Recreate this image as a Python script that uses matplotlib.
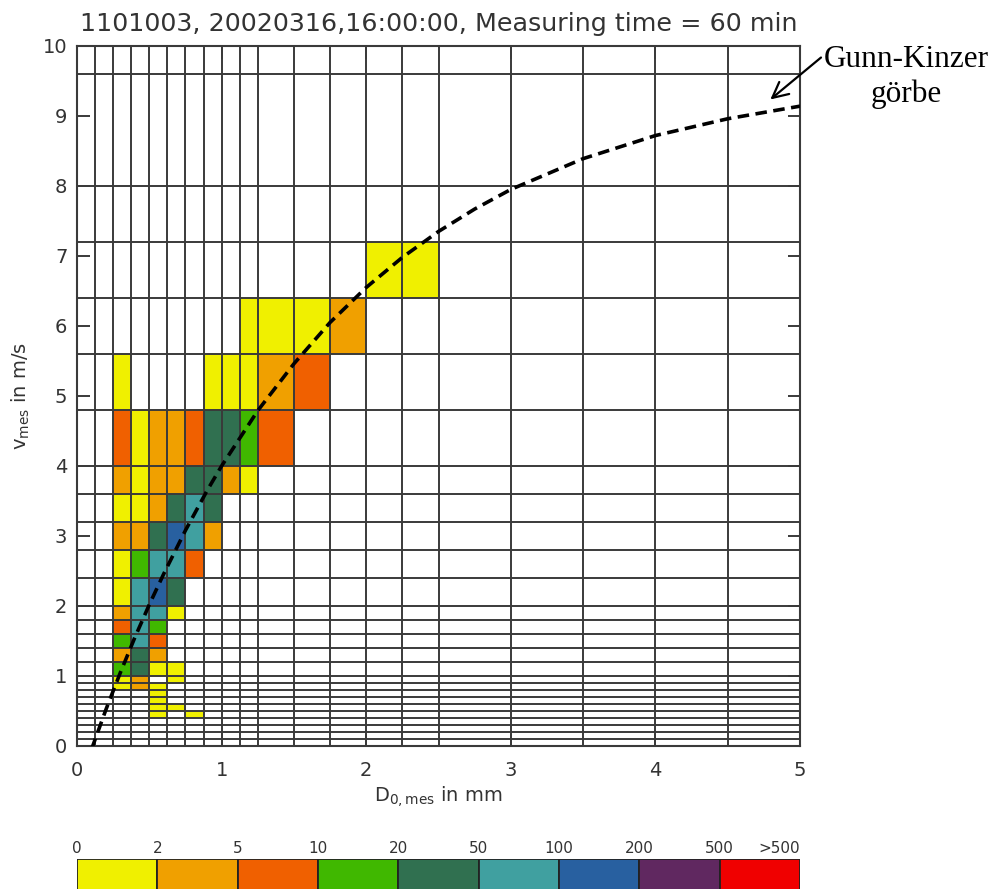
import numpy as np
import matplotlib
matplotlib.use("Agg")
import matplotlib.pyplot as plt
from matplotlib.colors import ListedColormap, BoundaryNorm
from matplotlib import transforms

# Parsivel class edges
d_edges = [0, 0.125, 0.25, 0.375, 0.5, 0.625, 0.75, 0.875, 1.0, 1.125, 1.25,
           1.5, 1.75, 2.0, 2.25, 2.5, 3.0, 3.5, 4.0, 4.5, 5.0]
v_edges = [0, 0.1, 0.2, 0.3, 0.4, 0.5, 0.6, 0.7, 0.8, 0.9, 1.0,
           1.2, 1.4, 1.6, 1.8, 2.0, 2.4, 2.8, 3.2, 3.6, 4.0,
           4.8, 5.6, 6.4, 7.2, 8.0, 9.6]

# drop counts, top row = 6.4-7.2 m/s, columns = first 15 diameter classes
counts_top_down = [
    [0, 0, 0, 0, 0, 0, 0, 0, 0, 0, 0, 0, 0, 1, 1],
    [0, 0, 0, 0, 0, 0, 0, 0, 0, 1, 1, 1, 3, 0, 0],
    [0, 0, 1, 0, 0, 0, 0, 1, 1, 1, 3, 7, 0, 0, 0],
    [0, 0, 7, 1, 3, 3, 7, 35, 35, 15, 7, 0, 0, 0, 0],
    [0, 0, 3, 1, 3, 3, 35, 35, 3, 1, 0, 0, 0, 0, 0],
    [0, 0, 1, 1, 3, 35, 70, 35, 0, 0, 0, 0, 0, 0, 0],
    [0, 0, 3, 3, 35, 150, 70, 3, 0, 0, 0, 0, 0, 0, 0],
    [0, 0, 1, 15, 70, 70, 7, 0, 0, 0, 0, 0, 0, 0, 0],
    [0, 0, 1, 70, 150, 35, 0, 0, 0, 0, 0, 0, 0, 0, 0],
    [0, 0, 3, 70, 70, 1, 0, 0, 0, 0, 0, 0, 0, 0, 0],
    [0, 0, 7, 70, 15, 0, 0, 0, 0, 0, 0, 0, 0, 0, 0],
    [0, 0, 15, 70, 7, 0, 0, 0, 0, 0, 0, 0, 0, 0, 0],
    [0, 0, 3, 35, 3, 0, 0, 0, 0, 0, 0, 0, 0, 0, 0],
    [0, 0, 15, 35, 1, 1, 0, 0, 0, 0, 0, 0, 0, 0, 0],
    [0, 0, 1, 3, 0, 1, 0, 0, 0, 0, 0, 0, 0, 0, 0],
    [0, 0, 1, 3, 1, 0, 0, 0, 0, 0, 0, 0, 0, 0, 0],
    [0, 0, 0, 0, 1, 0, 0, 0, 0, 0, 0, 0, 0, 0, 0],
    [0, 0, 0, 0, 1, 0, 0, 0, 0, 0, 0, 0, 0, 0, 0],
    [0, 0, 0, 0, 1, 1, 0, 0, 0, 0, 0, 0, 0, 0, 0],
    [0, 0, 0, 0, 1, 0, 1, 0, 0, 0, 0, 0, 0, 0, 0],
    [0, 0, 0, 0, 0, 0, 0, 0, 0, 0, 0, 0, 0, 0, 0],
    [0, 0, 0, 0, 0, 0, 0, 0, 0, 0, 0, 0, 0, 0, 0],
    [0, 0, 0, 0, 0, 0, 0, 0, 0, 0, 0, 0, 0, 0, 0],
    [0, 0, 0, 0, 0, 0, 0, 0, 0, 0, 0, 0, 0, 0, 0],
]

# Gunn-Kinzer curve
gk_d = [0.1, 0.2, 0.3, 0.4, 0.5, 0.6, 0.75, 0.9, 1.0, 1.25, 1.5, 1.75, 2.0,
        2.25, 2.5, 2.75, 3.0, 3.5, 4.0, 4.5, 5.0]
gk_v = [-0.05, 0.52, 1.05, 1.55, 2.02, 2.46, 3.08, 3.65, 4.0, 4.79, 5.46,
        6.05, 6.55, 6.98, 7.35, 7.67, 7.95, 8.39, 8.72, 8.96, 9.14]

levels = [0, 2, 5, 10, 20, 50, 100, 200, 500, 1e6]
level_labels = ["0", "2", "5", "10", "20", "50", "100", "200", "500", ">500"]
level_colors = ["#f0f000", "#f0a000", "#f06000", "#40b800", "#307050",
                "#40a0a0", "#2860a0", "#602860", "#f00000"]

title = "1101003, 20020316,16:00:00, Measuring time = 60 min"
txt = "#333333"
grid_c = "#3a3a3a"

cmap = ListedColormap(level_colors)
norm = BoundaryNorm(levels, cmap.N)

fig = plt.figure(figsize=(9.99, 8.89), dpi=100)
ax = fig.add_axes([0.0771, 0.1609, 0.7237, 0.7874])

counts = np.array(counts_top_down[::-1], dtype=float)
nr, nc = counts.shape
masked = np.ma.masked_equal(counts, 0)
ax.pcolormesh(d_edges[:nc + 1], v_edges[:nr + 1], masked, cmap=cmap, norm=norm,
              zorder=1)

for d in d_edges:
    ax.axvline(d, color=grid_c, lw=1.4, zorder=2)
for v in v_edges:
    ax.axhline(v, color=grid_c, lw=1.4, zorder=2)

ax.plot(gk_d, gk_v, color="black", lw=2.6, dashes=(3.2, 1.8), zorder=3)

ax.set_xlim(0, 5)
ax.set_ylim(0, 10)
ax.set_xticks(range(6))
ax.set_yticks(range(11))
ax.tick_params(axis="y", direction="in", length=9, width=1.4, color=grid_c,
               left=True, right=True, labelsize=14, labelcolor=txt, pad=7)
ax.tick_params(axis="x", direction="in", length=9, width=1.4, color=grid_c,
               bottom=True, top=True, labelsize=14, labelcolor=txt, pad=11)
for s in ax.spines.values():
    s.set_color(grid_c)
    s.set_linewidth(1.5)

ax.set_title(title, fontsize=18.3, color=txt, pad=11)
ax.set_xlabel(r"D$_{\rm 0,mes}$ in mm", fontsize=14, color=txt, labelpad=3)
ax.set_ylabel(r"v$_{\rm mes}$ in m/s", fontsize=14, color=txt, labelpad=8)

# annotation
ax.annotate("", xy=(4.78, 9.21), xytext=(5.16, 9.86),
            arrowprops=dict(arrowstyle="->", lw=1.6, color="black",
                            mutation_scale=28),
            annotation_clip=False)
fig.text(0.907, 0.913, "Gunn-Kinzer\ngörbe", ha="center", va="center",
         fontsize=22.5, family="Liberation Serif", linespacing=1.25)

# colour legend bar
cax = fig.add_axes([0.0771, -0.01, 0.7237, 0.0437])
cax.bar(np.arange(len(level_colors)), 1, width=1, align="edge",
        color=level_colors, edgecolor="#222222", linewidth=1.3)
cax.set_xlim(0, len(level_colors))
cax.set_ylim(0, 1)
cax.axis("off")
tr = transforms.blended_transform_factory(cax.transData, fig.transFigure)
for i, lab in enumerate(level_labels):
    ha = "right" if lab.startswith(">") else "center"
    cax.text(i, 0.046, lab, transform=tr, ha=ha, va="center", fontsize=11,
             color=txt)

fig.savefig("out.png", dpi=100)
